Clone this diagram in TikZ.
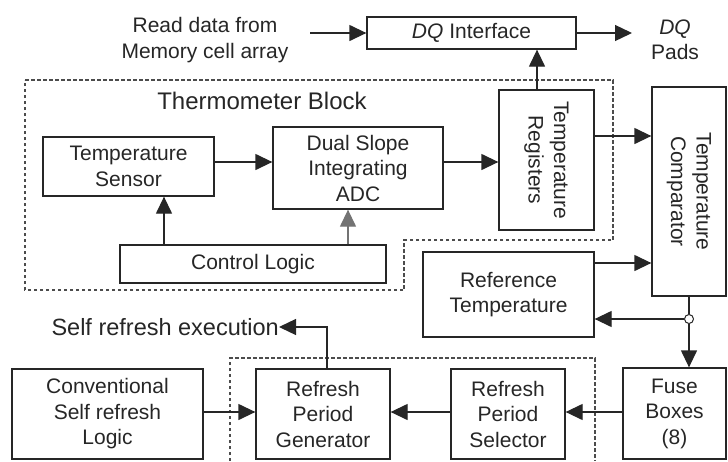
\documentclass[tikz,border=0pt]{standalone}
\usepackage{fontspec}
\setmainfont{Liberation Sans}
\usetikzlibrary{arrows.meta}
\begin{document}
\begin{tikzpicture}[x=1pt,y=-1pt,
  every node/.style={font=\fontsize{21}{25.5}\selectfont, text=black!85},
  box/.style={draw=black!85, line width=1.3pt, inner sep=0pt, align=center},
  arr/.style={draw=black!85, line width=1.3pt, -{Triangle[length=17pt,width=16pt]}},
  bound/.style={draw=black!70, line width=1.1pt, dash pattern=on 3.5pt off 2.5pt},
  plain/.style={inner sep=0pt, align=center}]
\useasboundingbox (0,0) rectangle (728,461);

% dashed boundaries
\draw[bound] (25,80) -- (613,80) -- (613,240) -- (404,240) -- (404,290) -- (25,290) -- cycle;
\draw[bound] (230,461) -- (230,358) -- (595,358) -- (595,461);

% texts
\node[plain] (read) at (205,40) {Read data from\\Memory cell array};
\node[plain] (pads) at (675,40) {\textit{DQ}\\Pads};
\node[plain, font=\fontsize{24}{28}\selectfont] (thermo) at (262,101) {Thermometer Block};
\node[plain, anchor=east, font=\fontsize{23.5}{28}\selectfont] (selfex) at (279,327) {Self refresh execution};

% boxes
\node[box, minimum width=209pt, minimum height=32pt] (dq) at (471.5,33) {\textit{DQ} Interface};
\node[box, minimum width=171pt, minimum height=59pt] (sens) at (128.5,166.5) {Temperature\\Sensor};
\node[box, minimum width=170pt, minimum height=82pt] (adc) at (358,168) {Dual Slope\\Integrating\\ADC};
\node[box, minimum width=95pt, minimum height=140pt] (reg) at (546.5,160) {};
\node[plain, rotate=-90] at (reg.center) {Temperature\\Registers};
\node[box, minimum width=74pt, minimum height=209pt] (comp) at (689,191.5) {};
\node[plain, rotate=-90] at (comp.center) {Temperature\\Comparator};
\node[box, minimum width=266pt, minimum height=38pt] (ctrl) at (253,264) {Control Logic};
\node[box, minimum width=171pt, minimum height=85pt] (ref) at (508.5,294.5) {Reference\\Temperature};
\node[box, minimum width=103pt, minimum height=91pt] (fuse) at (674.5,413.5) {Fuse\\Boxes\\(8)};
\node[box, minimum width=114pt, minimum height=90pt] (sel) at (508,414) {Refresh\\Period\\Selector};
\node[box, minimum width=134pt, minimum height=90pt] (gen) at (323,414) {Refresh\\Period\\Generator};
\node[box, minimum width=191pt, minimum height=90pt] (conv) at (107.5,414) {Conventional\\Self refresh\\Logic};

% junction
\node[draw=black!85, line width=1pt, fill=white, circle, inner sep=0pt, minimum size=9pt] (jn) at (689,319) {};

% connectors
\coordinate (rin) at (310,33);
\coordinate (pout) at (632,33);
\draw[arr] (rin) -- (dq.west);
\draw[arr] (dq.east) -- (pout);
\draw[arr] (sens.east |- 0,162) -- (adc.west |- 0,162);
\draw[arr] (adc.east |- 0,162) -- (reg.west |- 0,162);
\draw[arr] (reg.north -| 537,0) -- (dq.south -| 537,0);
\draw[arr] (reg.east |- 0,136) -- (comp.west |- 0,136);
\draw[arr] (ctrl.north -| 164,0) -- (sens.south -| 164,0);
\draw[arr, draw=black!55, fill=black!85] (ctrl.north -| 348,0) -- (adc.south -| 348,0);
\draw[arr] (ref.east |- 0,263) -- (comp.west |- 0,263);
\draw[draw=black!85, line width=1.3pt] (comp.south) -- (jn.north);
\draw[arr] (jn.south) -- (fuse.north -| jn.south);
\draw[arr] (jn.west) -- (ref.east |- jn.west);
\draw[arr] (fuse.west |- 0,412) -- (sel.east |- 0,412);
\draw[arr] (sel.west |- 0,412) -- (gen.east |- 0,412);
\draw[arr] (conv.east |- 0,412) -- (gen.west |- 0,412);
\draw[arr] (gen.north -| 327,0) |- (selfex.east);
\end{tikzpicture}
\end{document}
